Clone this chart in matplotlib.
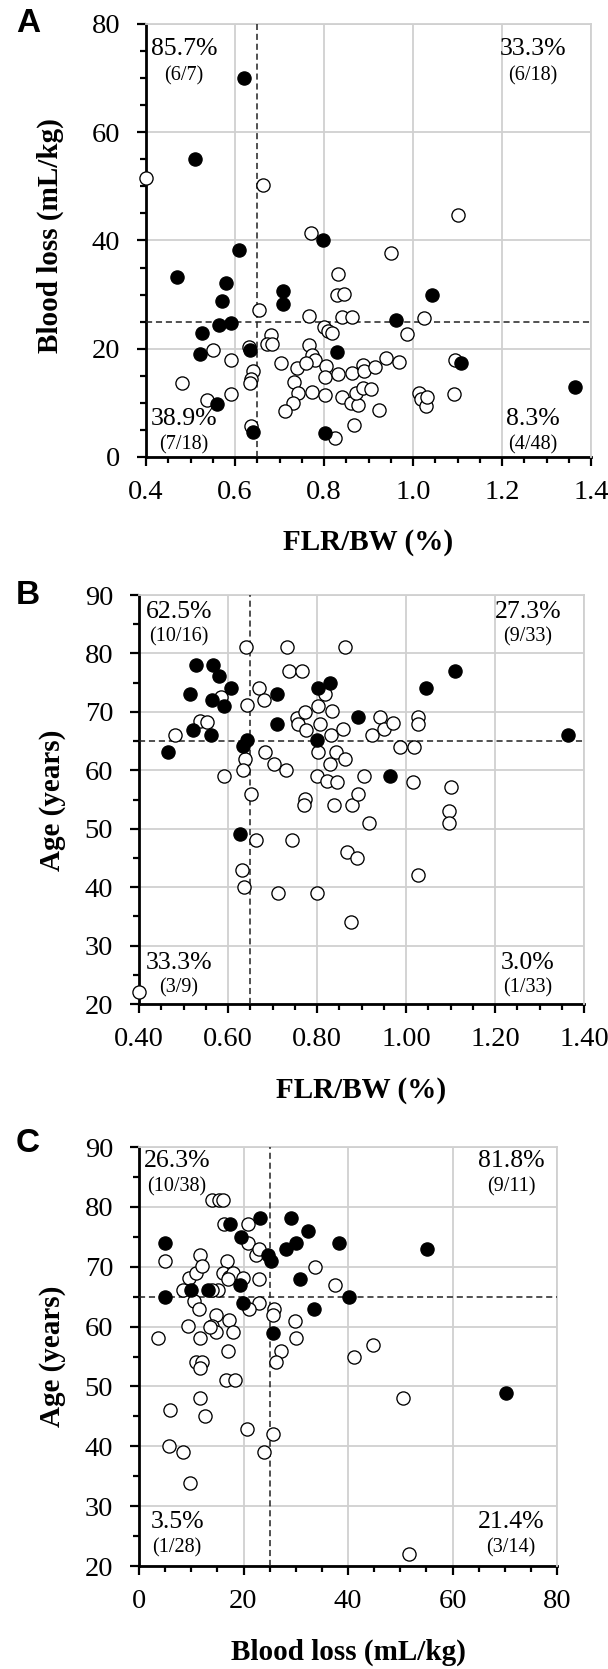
import matplotlib
matplotlib.use("Agg")
import matplotlib.pyplot as plt
from matplotlib.ticker import MultipleLocator, FormatStrFormatter

# ---------------- Data ----------------
# Panel A: FLR/BW (%) vs Blood loss (mL/kg)
a_filled_flr = [0.62, 0.51, 0.47, 0.61, 0.58, 0.57, 0.564, 0.592, 0.525, 0.521, 0.633, 0.559, 0.641,
                0.708, 0.708, 0.798, 0.829, 0.803, 0.961, 1.042, 1.108, 1.365]
a_filled_bl = [70.0, 55.1, 33.3, 38.2, 32.1, 28.9, 24.4, 24.7, 22.9, 19.0, 19.7, 9.8, 4.7,
               30.7, 28.2, 40.0, 19.4, 4.5, 25.3, 30.0, 17.4, 13.0]
a_open_flr = [0.77, 0.951, 0.832, 0.830, 0.845, 0.655, 0.767, 0.840, 0.864, 1.025, 0.801, 0.810, 0.819,
              0.986, 0.680, 0.671, 0.683, 0.631, 0.766, 0.551, 0.591, 0.773, 0.780, 0.703, 0.739, 0.759,
              0.804, 0.641, 0.637, 0.634, 0.733, 0.802, 0.831, 0.862, 0.888, 0.891, 0.915, 0.939, 0.969,
              0.480, 0.742, 0.773, 0.803, 0.841, 0.860, 0.877, 0.873, 0.888, 0.905, 0.730, 0.712, 0.924,
              0.867, 0.825, 0.637, 0.536, 0.591, 1.014, 1.019, 1.029, 1.032, 1.10, 0.40, 0.663, 1.095,
              1.092]
a_open_bl = [41.3, 37.6, 33.8, 29.9, 30.1, 27.2, 26.1, 25.8, 25.8, 25.6, 24.1, 23.2, 23.0,
             22.8, 22.5, 20.9, 20.9, 20.4, 20.7, 19.8, 18.0, 18.8, 17.9, 17.4, 16.5, 17.4,
             16.9, 15.8, 14.5, 13.6, 13.9, 14.8, 15.3, 15.5, 17.0, 15.9, 16.6, 18.2, 17.6,
             13.7, 11.8, 12.1, 11.5, 11.1, 10.0, 9.6, 11.8, 12.7, 12.5, 9.9, 8.5, 8.6,
             6.0, 3.6, 5.7, 10.5, 11.6, 11.8, 10.8, 9.5, 11.1, 44.8, 51.5, 50.3, 18.0,
             11.6]

# Panel B: FLR/BW (%) vs Age (years)
b_filled_flr = [0.466, 0.514, 0.529, 0.522, 0.564, 0.566, 0.579, 0.562, 0.591, 0.607, 0.711, 0.710,
                0.643, 0.634, 0.627, 0.803, 0.830, 0.801, 0.892, 0.963, 1.045, 1.109, 1.365]
b_filled_age = [63.1, 73.0, 78.1, 66.9, 72.1, 78.1, 76.1, 66.0, 71.0, 74.0, 73.0, 68.0,
                65.1, 64.1, 49.1, 74.1, 75.0, 65.1, 69.1, 59.1, 74.0, 77.0, 66.1]
b_open_flr = [0.40, 0.48, 0.537, 0.553, 0.591, 0.585, 0.641, 0.642, 0.639, 0.634, 0.652, 0.632, 0.636,
              0.662, 0.669, 0.68, 0.683, 0.704, 0.731, 0.732, 0.737, 0.767, 0.743, 0.712, 0.80, 0.754,
              0.757, 0.774, 0.776, 0.772, 0.770, 0.802, 0.807, 0.803, 0.801, 0.818, 0.822, 0.846, 0.833,
              0.831, 0.829, 0.842, 0.839, 0.859, 0.862, 0.864, 0.868, 0.89, 0.879, 0.892, 0.877, 0.906,
              0.916, 0.923, 0.941, 0.951, 0.970, 0.986, 1.019, 1.015, 1.028, 1.028, 1.026, 1.096, 1.096,
              1.102]
b_open_age = [22.0, 66.1, 68.4, 68.3, 59.0, 72.5, 81.1, 71.1, 62.0, 60.0, 56.0, 43.0, 40.0,
              48.0, 74.1, 72.1, 63.1, 61.0, 60.0, 81.1, 77.0, 77.0, 48.0, 39.0, 39.0, 69.0,
              68.0, 70.0, 66.9, 55.1, 54.0, 71.0, 68.0, 63.1, 59.0, 73.0, 58.2, 58.0, 70.1,
              66.0, 61.0, 63.1, 54.0, 67.0, 62.0, 81.1, 46.0, 45.0, 54.0, 56.0, 34.1, 59.1,
              51.0, 66.1, 69.1, 67.0, 68.1, 64.0, 64.0, 58.0, 69.1, 68.0, 42.1, 53.1, 51.0,
              57.1]

# Panel C: Blood loss (mL/kg) vs Age (years)
c_filled_bl = [5.0, 5.0, 9.9, 13.2, 17.5, 19.5, 19.4, 19.9, 23.1, 24.7, 25.2, 25.7, 28.2, 29.0,
               30.1, 32.4, 30.8, 33.5, 38.3, 40.2, 55.2, 70.2]
c_filled_age = [73.9, 64.9, 66.1, 66.1, 77.1, 74.9, 67.0, 63.9, 78.1, 71.9, 70.9, 59.0, 72.9, 78.1,
                73.9, 75.9, 67.9, 63.0, 73.9, 65.0, 72.9, 48.9]
c_open_bl = [3.7, 5.05, 5.9, 5.8, 8.4, 9.7, 9.3, 8.4, 9.5, 11.0, 11.7, 12.0, 10.6, 11.5, 11.7,
             11.0, 12.1, 11.7, 11.7, 12.7, 14.0, 15.4, 16.0, 16.2, 16.9, 16.0, 17.3, 15.1, 14.0,
             14.8, 14.0, 14.8, 17.3, 18.0, 17.1, 16.6, 18.3, 18.0, 19.9, 20.8, 20.8, 22.3, 22.9,
             22.9, 22.9, 21.0, 20.6, 24.0, 25.7, 25.9, 25.7, 27.1, 26.2, 29.8, 30.1, 33.6, 37.5,
             41.2, 44.8, 50.5, 51.6, 13.6, 17.1]
c_open_age = [58.1, 71.0, 46.0, 40.0, 39.0, 33.9, 60.1, 66.1, 68.1, 69.0, 71.9, 70.1, 64.2, 63.0, 58.1,
              54.0, 54.0, 53.0, 48.0, 45.0, 81.1, 81.1, 81.1, 77.1, 71.0, 69.0, 68.2, 66.1, 66.1,
              61.9, 60.1, 59.1, 61.1, 59.1, 56.0, 51.0, 51.0, 69.0, 68.1, 77.1, 73.9, 71.9, 72.9,
              67.9, 63.9, 63.0, 42.9, 39.0, 42.0, 62.9, 61.9, 56.0, 54.0, 61.0, 58.1, 70.0, 67.0,
              55.0, 57.0, 48.0, 22.0, 59.9, 68.0]

# Quadrant annotations (percent, count)
a_quad = [("85.7%", "(6/7)"), ("33.3%", "(6/18)"), ("38.9%", "(7/18)"), ("8.3%", "(4/48)")]
b_quad = [("62.5%", "(10/16)"), ("27.3%", "(9/33)"), ("33.3%", "(3/9)"), ("3.0%", "(1/33)")]
c_quad = [("26.3%", "(10/38)"), ("81.8%", "(9/11)"), ("3.5%", "(1/28)"), ("21.4%", "(3/14)")]

# ---------------- Figure ----------------
W, H = 608, 1669
fig = plt.figure(figsize=(W / 100, H / 100), dpi=100)
SERIF = "Liberation Serif"
SANS = "Liberation Sans"

def px_rect(l, t, r, b):
    return [l / W, 1 - b / H, (r - l) / W, (b - t) / H]

def style_axes(ax, xlim, ylim, xmaj, xmin, ymaj, ymin, xfmt, yfmt):
    ax.set_xlim(*xlim)
    ax.set_ylim(*ylim)
    ax.xaxis.set_major_locator(MultipleLocator(xmaj))
    ax.xaxis.set_minor_locator(MultipleLocator(xmin))
    ax.yaxis.set_major_locator(MultipleLocator(ymaj))
    ax.yaxis.set_minor_locator(MultipleLocator(ymin))
    ax.xaxis.set_major_formatter(FormatStrFormatter(xfmt))
    ax.yaxis.set_major_formatter(FormatStrFormatter(yfmt))
    ax.grid(True, which="major", color="#d0d0d0", linewidth=1.3, zorder=0)
    ax.set_axisbelow(True)
    for s in ("top", "right"):
        ax.spines[s].set_color("#d0d0d0")
        ax.spines[s].set_linewidth(1.3)
    for s in ("left", "bottom"):
        ax.spines[s].set_color("black")
        ax.spines[s].set_linewidth(2.0)
        ax.spines[s].set_zorder(2)
    ax.tick_params(which="major", direction="out", length=6.5, width=1.6, color="black")
    ax.tick_params(which="minor", direction="out", length=4.5, width=1.6, color="black")
    ax.tick_params(axis="x", which="major", pad=10, labelsize=20.5)
    ax.tick_params(axis="y", which="major", pad=12, labelsize=20.5)
    ax.tick_params(top=False, right=False, which="both")
    for lab in ax.get_xticklabels() + ax.get_yticklabels():
        lab.set_fontfamily(SERIF)

def scatter(ax, xo, yo, xf, yf):
    ax.scatter(xo, yo, s=90, facecolor="white", edgecolor="black", linewidth=0.95,
               zorder=5, clip_on=False)
    ax.scatter(xf, yf, s=90, facecolor="black", edgecolor="black", linewidth=0.95,
               zorder=6, clip_on=False)

def dashed(ax, xv, yv):
    ax.axvline(xv, color="#222222", linestyle=(0, (4, 2.5)), linewidth=1.1, zorder=3)
    ax.axhline(yv, color="#222222", linestyle=(0, (4, 2.5)), linewidth=1.1, zorder=3)

def quads(ax, quad, xl, xr, ytop, ybot, dy):
    pos = [(xl, ytop), (xr, ytop), (xl, ybot), (xr, ybot)]
    for (pct, cnt), (x, y) in zip(quad, pos):
        ax.text(x, y, pct, ha="center", va="center", fontsize=18.5, family=SERIF, zorder=7)
        ax.text(x, y - dy, cnt, ha="center", va="center", fontsize=14.5, family=SERIF, zorder=7)

# ----- Panel A -----
axA = fig.add_axes(px_rect(146, 24, 591, 457))
style_axes(axA, (0.4, 1.4), (0, 80), 0.2, 0.05, 20, 5, "%.1f", "%d")
dashed(axA, 0.65, 25)
scatter(axA, a_open_flr, a_open_bl, a_filled_flr, a_filled_bl)
quads(axA, a_quad, 0.485, 1.27, 75.3, 7.0, 4.8)
fig.text(50 / W, 1 - 236 / H, "Blood loss (mL/kg)", rotation=90, ha="center", va="center",
         fontsize=21, fontweight="bold", family=SERIF)
fig.text(368 / W, 1 - 543 / H, "FLR/BW (%)", ha="center", va="center",
         fontsize=21, fontweight="bold", family=SERIF)
fig.text(28 / W, 1 - 24 / H, "A", ha="center", va="center", fontsize=24,
         fontweight="bold", family=SANS)

# ----- Panel B -----
axB = fig.add_axes(px_rect(139, 595, 584, 1004))
style_axes(axB, (0.4, 1.4), (20, 90), 0.2, 0.05, 10, 5, "%.2f", "%d")
dashed(axB, 0.65, 65)
scatter(axB, b_open_flr, b_open_age, b_filled_flr, b_filled_age)
quads(axB, b_quad, 0.49, 1.274, 87.1, 27.0, 4.3)
fig.text(52 / W, 1 - 800 / H, "Age (years)", rotation=90, ha="center", va="center",
         fontsize=21, fontweight="bold", family=SERIF)
fig.text(361 / W, 1 - 1090 / H, "FLR/BW (%)", ha="center", va="center",
         fontsize=21, fontweight="bold", family=SERIF)
fig.text(28 / W, 1 - 595 / H, "B", ha="center", va="center", fontsize=24,
         fontweight="bold", family=SANS)

# ----- Panel C -----
axC = fig.add_axes(px_rect(139, 1147, 557, 1566))
style_axes(axC, (0, 80), (20, 90), 20, 5, 10, 5, "%d", "%d")
dashed(axC, 25, 65)
scatter(axC, c_open_bl, c_open_age, c_filled_bl, c_filled_age)
quads(axC, c_quad, 7.3, 71.2, 87.7, 27.3, 4.3)
fig.text(52 / W, 1 - 1356 / H, "Age (years)", rotation=90, ha="center", va="center",
         fontsize=21, fontweight="bold", family=SERIF)
fig.text(348 / W, 1 - 1652 / H, "Blood loss (mL/kg)", ha="center", va="center",
         fontsize=21, fontweight="bold", family=SERIF)
fig.text(28 / W, 1 - 1143 / H, "C", ha="center", va="center", fontsize=24,
         fontweight="bold", family=SANS)

fig.savefig("out.png", dpi=100)
